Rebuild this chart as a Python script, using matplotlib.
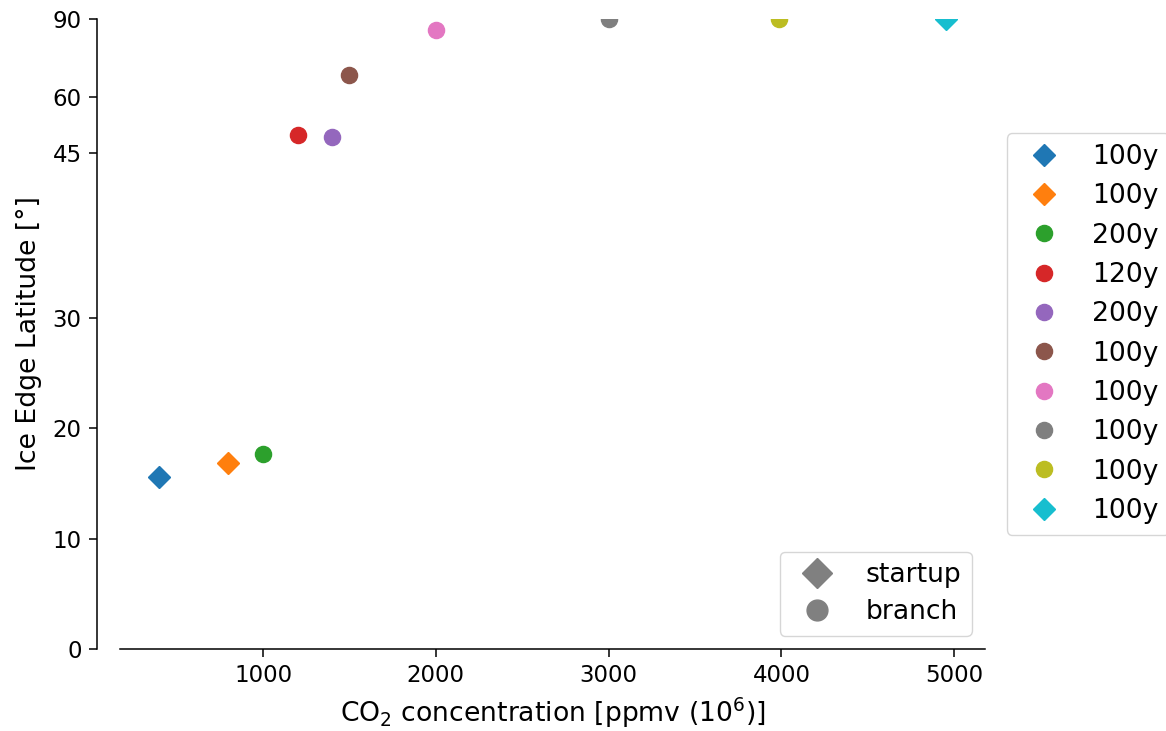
import numpy as np
import matplotlib
matplotlib.use("Agg")
import matplotlib.pyplot as plt
from matplotlib.lines import Line2D

# Data
co2 = [400, 800, 1000, 1200, 1400, 1500, 2000, 3000, 3985, 4950]
ice_lat = [15.6, 16.9, 17.7, 49.9, 49.3, 68.4, 85.8, 90, 90, 90]
durations = ["100y", "100y", "200y", "120y", "200y", "100y", "100y", "100y", "100y", "100y"]
kinds = ["startup", "startup", "branch", "branch", "branch", "branch", "branch", "branch", "branch", "startup"]
yticks = [0, 10, 20, 30, 45, 60, 90]
xticks = [1000, 2000, 3000, 4000, 5000]

# y-axis mapping (piecewise scale)
knots_lat = [0, 45, 60, 90]
knots_pos = [0, 496.3, 552.0, 630.0]

def fwd(y):
    return np.interp(y, knots_lat, knots_pos)

def inv(p):
    return np.interp(p, knots_pos, knots_lat)

W, H = 1166, 731
fig = plt.figure(figsize=(W / 100, H / 100), dpi=100)
ax = fig.add_axes([120 / W, (H - 649) / H, (985 - 120) / W, (649 - 19) / H])

colors = plt.rcParams['axes.prop_cycle'].by_key()['color']
marker_of = {"startup": "D", "branch": "o"}
ms = 11.6
for i, (x, y, lab, k) in enumerate(zip(co2, ice_lat, durations, kinds)):
    mk = marker_of[k]
    ax.plot([x], [y], linestyle='none', marker=mk, color=colors[i % 10],
            markersize=ms * (0.97 if mk == 'D' else 1.0), label=lab)

ax.set_yscale('function', functions=(fwd, inv))
ax.set_ylim(0, 90)
ax.set_yticks(yticks)
ax.set_yticklabels([str(t) for t in yticks])
ax.set_xticks(xticks)
ax.minorticks_off()

ax.spines['top'].set_visible(False)
ax.spines['right'].set_visible(False)
ax.spines['left'].set_position(('outward', 16.5))
for s in ['left', 'bottom']:
    ax.spines[s].set_linewidth(1.1)
ax.tick_params(axis='both', labelsize=16.5, length=6, width=1.1, pad=5)

ax.set_xlabel(r"CO$_2$ concentration [ppmv (10$^6$)]", fontsize=19.2, labelpad=6)
ax.set_ylabel("Ice Edge Latitude [°]", fontsize=19.2, labelpad=8)

leg1 = ax.legend(loc='center left', bbox_to_anchor=(1.01, 0.5), fontsize=19.2,
                 labelspacing=0.5)
ax.add_artist(leg1)

handles = [Line2D([], [], linestyle='none', marker='D', color='gray', markersize=15),
           Line2D([], [], linestyle='none', marker='o', color='gray', markersize=15)]
ax.legend(handles, ["startup", "branch"], loc='lower right', fontsize=19.2,
          labelspacing=0.4)

fig.savefig("out.png", dpi=100)
